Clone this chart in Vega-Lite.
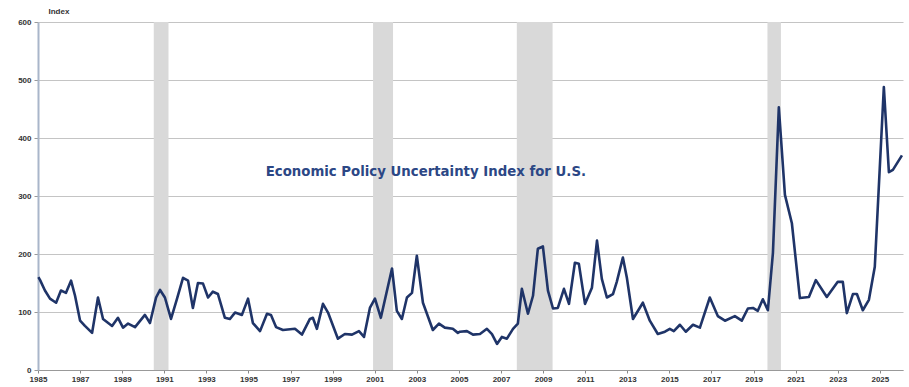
{
  "$schema": "https://vega.github.io/schema/vega-lite/v6.json",
  "width": 865,
  "height": 348,
  "autosize": {"type": "none"},
  "padding": {"left": 38, "top": 22, "right": 6, "bottom": 17},
  "background": "white",
  "config": {
    "view": {"stroke": null},
    "font": "Liberation Sans"
  },
  "datasets": {
    "recessions": [
      {"start": 1990.5, "end": 1991.2},
      {"start": 2000.92, "end": 2001.87},
      {"start": 2007.75, "end": 2009.45},
      {"start": 2019.66, "end": 2020.3}
    ],
    "epu": [
      {"year": 1985.02, "value": 160},
      {"year": 1985.10, "value": 155},
      {"year": 1985.33, "value": 137},
      {"year": 1985.57, "value": 123},
      {"year": 1985.86, "value": 116},
      {"year": 1986.09, "value": 137},
      {"year": 1986.33, "value": 133},
      {"year": 1986.57, "value": 154},
      {"year": 1986.76, "value": 128},
      {"year": 1987.00, "value": 85},
      {"year": 1987.23, "value": 76},
      {"year": 1987.57, "value": 64},
      {"year": 1987.85, "value": 125},
      {"year": 1988.09, "value": 88},
      {"year": 1988.52, "value": 76},
      {"year": 1988.80, "value": 90},
      {"year": 1989.04, "value": 73},
      {"year": 1989.28, "value": 80},
      {"year": 1989.61, "value": 74},
      {"year": 1990.08, "value": 95},
      {"year": 1990.32, "value": 81},
      {"year": 1990.61, "value": 125},
      {"year": 1990.80, "value": 138},
      {"year": 1991.03, "value": 125},
      {"year": 1991.32, "value": 88},
      {"year": 1991.60, "value": 122},
      {"year": 1991.89, "value": 159},
      {"year": 1992.13, "value": 154},
      {"year": 1992.36, "value": 107},
      {"year": 1992.60, "value": 150},
      {"year": 1992.84, "value": 149},
      {"year": 1993.08, "value": 125},
      {"year": 1993.31, "value": 135},
      {"year": 1993.55, "value": 131},
      {"year": 1993.88, "value": 90},
      {"year": 1994.12, "value": 88},
      {"year": 1994.36, "value": 99},
      {"year": 1994.69, "value": 95},
      {"year": 1994.98, "value": 123},
      {"year": 1995.21, "value": 81},
      {"year": 1995.55, "value": 67},
      {"year": 1995.88, "value": 97},
      {"year": 1996.07, "value": 95},
      {"year": 1996.31, "value": 74},
      {"year": 1996.64, "value": 69},
      {"year": 1997.21, "value": 71},
      {"year": 1997.54, "value": 61},
      {"year": 1997.92, "value": 88},
      {"year": 1998.06, "value": 90},
      {"year": 1998.25, "value": 71},
      {"year": 1998.54, "value": 114},
      {"year": 1998.78, "value": 99},
      {"year": 1999.25, "value": 54},
      {"year": 1999.58, "value": 62},
      {"year": 1999.92, "value": 61},
      {"year": 2000.25, "value": 67},
      {"year": 2000.49, "value": 57},
      {"year": 2000.77, "value": 107},
      {"year": 2001.01, "value": 123},
      {"year": 2001.29, "value": 90},
      {"year": 2001.82, "value": 175},
      {"year": 2002.05, "value": 102},
      {"year": 2002.29, "value": 88},
      {"year": 2002.53, "value": 125},
      {"year": 2002.77, "value": 133},
      {"year": 2003.00, "value": 197},
      {"year": 2003.29, "value": 116},
      {"year": 2003.76, "value": 69},
      {"year": 2004.05, "value": 80},
      {"year": 2004.33, "value": 73},
      {"year": 2004.71, "value": 71},
      {"year": 2004.95, "value": 64},
      {"year": 2005.05, "value": 66},
      {"year": 2005.38, "value": 67},
      {"year": 2005.67, "value": 61},
      {"year": 2006.00, "value": 62},
      {"year": 2006.33, "value": 71},
      {"year": 2006.57, "value": 62},
      {"year": 2006.81, "value": 45},
      {"year": 2007.04, "value": 57},
      {"year": 2007.28, "value": 54},
      {"year": 2007.57, "value": 71},
      {"year": 2007.80, "value": 80},
      {"year": 2007.99, "value": 140},
      {"year": 2008.28, "value": 97},
      {"year": 2008.52, "value": 128},
      {"year": 2008.75, "value": 209},
      {"year": 2008.99, "value": 213},
      {"year": 2009.23, "value": 137},
      {"year": 2009.47, "value": 106},
      {"year": 2009.70, "value": 107},
      {"year": 2009.99, "value": 140},
      {"year": 2010.23, "value": 114},
      {"year": 2010.51, "value": 185},
      {"year": 2010.70, "value": 183},
      {"year": 2010.99, "value": 114},
      {"year": 2011.32, "value": 142},
      {"year": 2011.56, "value": 223},
      {"year": 2011.79, "value": 157},
      {"year": 2012.03, "value": 125},
      {"year": 2012.32, "value": 131},
      {"year": 2012.50, "value": 152},
      {"year": 2012.79, "value": 194},
      {"year": 2012.98, "value": 159},
      {"year": 2013.27, "value": 88},
      {"year": 2013.74, "value": 116},
      {"year": 2014.07, "value": 85},
      {"year": 2014.45, "value": 62},
      {"year": 2014.79, "value": 66},
      {"year": 2015.02, "value": 71},
      {"year": 2015.21, "value": 67},
      {"year": 2015.50, "value": 78},
      {"year": 2015.78, "value": 66},
      {"year": 2016.12, "value": 78},
      {"year": 2016.45, "value": 73},
      {"year": 2016.92, "value": 125},
      {"year": 2017.30, "value": 93},
      {"year": 2017.64, "value": 85},
      {"year": 2018.11, "value": 93},
      {"year": 2018.44, "value": 85},
      {"year": 2018.73, "value": 106},
      {"year": 2018.97, "value": 107},
      {"year": 2019.20, "value": 102},
      {"year": 2019.44, "value": 122},
      {"year": 2019.68, "value": 103},
      {"year": 2019.92, "value": 202},
      {"year": 2020.20, "value": 453},
      {"year": 2020.49, "value": 302},
      {"year": 2020.82, "value": 253},
      {"year": 2021.20, "value": 124},
      {"year": 2021.63, "value": 126},
      {"year": 2021.96, "value": 155},
      {"year": 2022.48, "value": 126},
      {"year": 2023.00, "value": 152},
      {"year": 2023.24, "value": 152},
      {"year": 2023.43, "value": 98},
      {"year": 2023.72, "value": 131},
      {"year": 2023.91, "value": 131},
      {"year": 2024.19, "value": 103},
      {"year": 2024.48, "value": 121},
      {"year": 2024.76, "value": 178},
      {"year": 2025.19, "value": 488},
      {"year": 2025.43, "value": 341},
      {"year": 2025.62, "value": 345},
      {"year": 2026.05, "value": 370}
    ]
  },
  "layer": [
    {
      "data": {"name": "recessions"},
      "mark": {"type": "rect", "color": "#d9d9d9"},
      "encoding": {
        "x": {
          "field": "start",
          "type": "quantitative",
          "scale": {"domain": [1985, 2026.1], "nice": false, "zero": false},
          "axis": {
            "title": null,
            "values": [1985, 1987, 1989, 1991, 1993, 1995, 1997, 1999, 2001, 2003, 2005, 2007, 2009, 2011, 2013, 2015, 2017, 2019, 2021, 2023, 2025],
            "format": "d",
            "grid": false,
            "labelFontSize": 8,
            "labelColor": "#333333",
            "labelFontWeight": "bold",
            "labelPadding": 2,
            "tickSize": 3,
            "tickColor": "#888888",
            "domainColor": "#999999",
            "labelFlush": false
          }
        },
        "x2": {"field": "end"}
      }
    },
    {
      "data": {"name": "epu"},
      "mark": {"type": "line", "color": "#1f3468", "strokeWidth": 2.6, "strokeJoin": "round"},
      "encoding": {
        "x": {"field": "year", "type": "quantitative"},
        "y": {
          "field": "value",
          "type": "quantitative",
          "scale": {"domain": [0, 600], "nice": false},
          "axis": {
            "title": "Index",
            "titleAngle": 0,
            "titleAlign": "left",
            "titleBaseline": "bottom",
            "titleX": 10,
            "titleY": -7,
            "titleFontSize": 8,
            "titleFontWeight": "bold",
            "titleColor": "#333333",
            "values": [0, 100, 200, 300, 400, 500, 600],
            "grid": true,
            "gridColor": "#c4c4c4",
            "gridWidth": 1,
            "labelFontSize": 8,
            "labelFontWeight": "bold",
            "labelColor": "#333333",
            "labelPadding": 3,
            "tickSize": 4,
            "tickColor": "#999999",
            "domainColor": "#a9b6ca",
            "domainWidth": 2
          }
        }
      }
    },
    {
      "data": {"values": [{"label": "Economic Policy Uncertainty Index for U.S."}]},
      "mark": {
        "type": "text",
        "font": "DejaVu Sans",
        "fontSize": 13.3,
        "fontWeight": "bold",
        "color": "#2c4785",
        "align": "center",
        "baseline": "middle"
      },
      "encoding": {
        "x": {"datum": 2003.43},
        "y": {"datum": 341},
        "text": {"field": "label"}
      }
    }
  ]
}
